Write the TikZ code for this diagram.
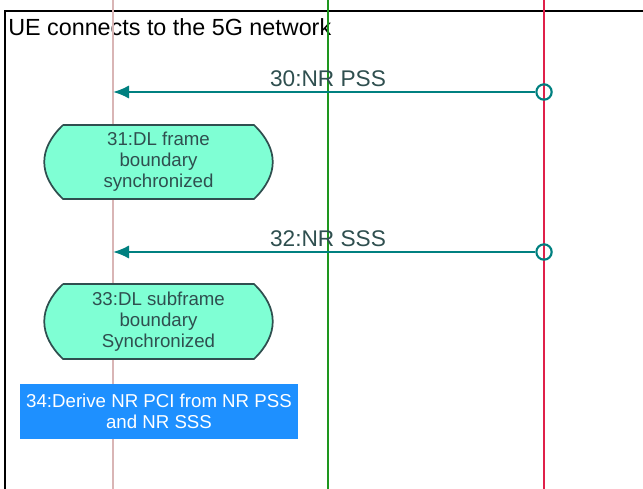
\documentclass[tikz,border=0pt]{standalone}
\usepackage{fontspec}
\setmainfont{Liberation Sans}
\usetikzlibrary{arrows.meta}

\definecolor{ueline}{HTML}{D9B5B5}
\definecolor{gnbline}{HTML}{1E961E}
\definecolor{netline}{HTML}{E0204A}
\definecolor{msgteal}{HTML}{008080}
\definecolor{slate}{HTML}{2F4F4F}
\definecolor{aqua}{HTML}{7FFFD4}
\definecolor{dodger}{HTML}{1E90FF}

\tikzstyle{lifeline}=[line width=0.9pt]
\tikzstyle{msg}=[draw=msgteal,line width=1.6pt,-{Latex[length=12pt,width=10pt]}]
\tikzstyle{msglabel}=[text=slate,inner sep=0pt,anchor=base,font=\fontsize{17}{20}\selectfont]
\tikzstyle{origin}=[circle,draw=msgteal,line width=1.6pt,minimum size=11.5pt,inner sep=0pt]
\tikzstyle{statebox}=[fill=aqua,draw=slate,line width=1.3pt]
\tikzstyle{statetext}=[text=slate,align=center,inner sep=0pt,font=\fontsize{14}{15.8}\selectfont]
\tikzstyle{action}=[rectangle,fill=dodger,text=white,align=center,inner sep=0pt,minimum width=208.5pt,minimum height=41.25pt,font=\fontsize{14}{16}\selectfont]

\begin{document}
\begin{tikzpicture}[x=0.75pt,y=-0.75pt]
    \useasboundingbox (0,0) rectangle (643,489);

    % frame
    \draw[line width=1.5pt] (643,11) -- (5,11) -- (5,489);
    \node[anchor=base west,inner sep=0pt,font=\fontsize{17.5}{20}\selectfont] (title) at (8,36) {UE connects to the 5G network};

    % lifelines
    \coordinate (ueTop) at (113,0);
    \coordinate (ueBot) at (113,489);
    \coordinate (gnbTop) at (328,0);
    \coordinate (gnbBot) at (328,489);
    \coordinate (netTop) at (544,0);
    \coordinate (netBot) at (544,489);
    \draw[lifeline,ueline] (ueTop) -- (ueBot);
    \draw[lifeline,gnbline] (gnbTop) -- (gnbBot);
    \draw[lifeline,netline] (netTop) -- (netBot);

    % 30
    \node[origin] (o30) at (544,92) {};
    \coordinate (u30) at (113,92);
    \draw[msg] (o30) -- (u30);
    \node[msglabel] (l30) at (328,86) {30:NR PSS};

    % 31
    \filldraw[statebox] (63,125) -- (254,125) .. controls (279,149) and (279,175) .. (254,199)
        -- (63,199) .. controls (38,175) and (38,149) .. (63,125);
    \node[statetext] (s31) at (158.5,162) {31:DL frame\\boundary\\synchronized};

    % 32
    \node[origin] (o32) at (544,252) {};
    \coordinate (u32) at (113,252);
    \draw[msg] (o32) -- (u32);
    \node[msglabel] (l32) at (328,246) {32:NR SSS};

    % 33
    \filldraw[statebox] (63,284) -- (254,284) .. controls (279,308) and (279,335) .. (254,359)
        -- (63,359) .. controls (38,335) and (38,308) .. (63,284);
    \node[statetext] (s33) at (158.5,321.5) {33:DL subframe\\boundary\\Synchronized};

    % 34
    \node[action] (a34) at (159,411.5) {34:Derive NR PCI from NR PSS\\and NR SSS};

\end{tikzpicture}
\end{document}
